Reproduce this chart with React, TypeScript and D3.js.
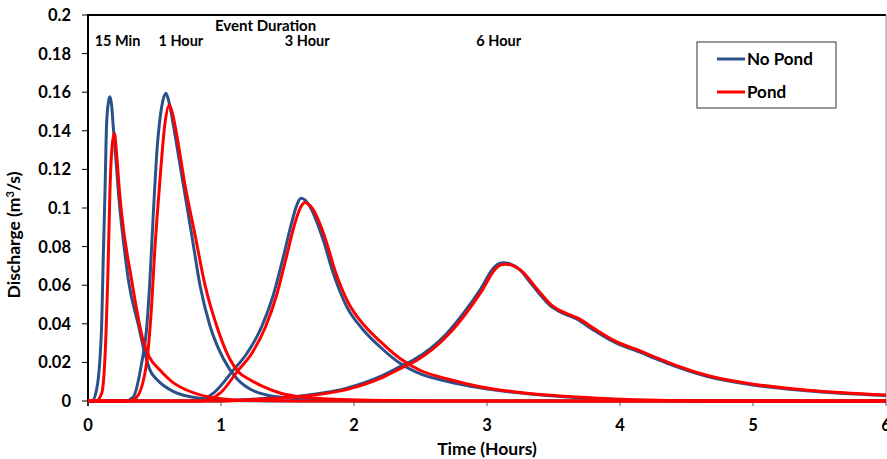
import React from "react";
import * as d3 from "d3";

type Pt = [number, number];

// Time (hours) / discharge (m3/s) pairs
const noPond15: Pt[] = [[0,0],[0.03,0],[0.065,0.006],[0.09,0.022],[0.103,0.04],[0.115,0.075],[0.128,0.109],[0.14,0.144],[0.155,0.1555],[0.165,0.1577],[0.178,0.153],[0.19,0.142],[0.21,0.125],[0.23,0.107],[0.28,0.075],[0.303,0.063],[0.38,0.039],[0.43,0.024],[0.466,0.016],[0.52,0.011],[0.64,0.005],[0.84,0.0014],[1.1,0.0003],[1.5,0],[6,0]];
const pond15: Pt[] = [[0,0],[0.06,0],[0.103,0.004],[0.128,0.023],[0.153,0.075],[0.165,0.109],[0.18,0.131],[0.198,0.1387],[0.215,0.128],[0.235,0.11],[0.253,0.097],[0.328,0.0627],[0.416,0.031],[0.46,0.023],[0.541,0.016],[0.64,0.0095],[0.742,0.0057],[0.967,0.0014],[1.2,0.0003],[1.6,0],[6,0]];
const noPond1h: Pt[] = [[0,0],[0.28,0],[0.34,0.002],[0.403,0.0195],[0.44,0.037],[0.466,0.063],[0.491,0.097],[0.521,0.132],[0.554,0.1525],[0.586,0.1594],[0.612,0.154],[0.654,0.138],[0.717,0.112],[0.78,0.086],[0.842,0.06],[0.917,0.039],[1.017,0.022],[1.118,0.0117],[1.218,0.0062],[1.35,0.003],[1.52,0.0015],[1.8,0.0004],[2.2,0],[6,0]];
const pond1h: Pt[] = [[0,0],[0.31,0],[0.366,0.002],[0.44,0.0195],[0.474,0.045],[0.504,0.08],[0.541,0.1145],[0.579,0.144],[0.611,0.1534],[0.635,0.149],[0.667,0.138],[0.729,0.112],[0.805,0.086],[0.88,0.06],[0.967,0.039],[1.068,0.0215],[1.13,0.0152],[1.218,0.011],[1.318,0.0074],[1.45,0.004],[1.59,0.0022],[1.9,0.0008],[2.3,0.0002],[2.6,0],[6,0]];
const noPond3h: Pt[] = [[0,0],[0.8,0],[0.95,0.0045],[1.093,0.016],[1.193,0.0245],[1.306,0.0385],[1.393,0.0548],[1.469,0.0748],[1.53,0.092],[1.57,0.1015],[1.6,0.105],[1.63,0.1042],[1.669,0.1007],[1.769,0.0834],[1.845,0.066],[1.945,0.0489],[2.07,0.0368],[2.195,0.0281],[2.346,0.0195],[2.5,0.014],[2.697,0.0102],[2.947,0.0068],[3.198,0.0045],[3.449,0.0028],[3.674,0.0018],[3.95,0.0008],[4.3,0.0002],[4.6,0],[6,0]];
const pond3h: Pt[] = [[0,0],[0.85,0],[1.0,0.0045],[1.13,0.016],[1.23,0.0245],[1.335,0.0385],[1.418,0.0548],[1.49,0.0742],[1.555,0.092],[1.6,0.1005],[1.632,0.1028],[1.66,0.1018],[1.69,0.0995],[1.785,0.084],[1.86,0.067],[1.96,0.0505],[2.08,0.039],[2.195,0.031],[2.346,0.022],[2.5,0.0158],[2.697,0.0115],[2.947,0.0074],[3.198,0.0048],[3.449,0.0031],[3.674,0.0021],[3.95,0.0011],[4.3,0.0004],[4.7,0],[6,0]];
const noPond6h: Pt[] = [[0,0],[1.0,0],[1.3,0.0012],[1.569,0.0024],[1.945,0.0066],[2.195,0.0126],[2.346,0.0178],[2.446,0.0212],[2.697,0.035],[2.822,0.0454],[2.947,0.0575],[3.048,0.0688],[3.09,0.0712],[3.123,0.0716],[3.17,0.0711],[3.248,0.0679],[3.33,0.061],[3.4,0.055],[3.47,0.0497],[3.55,0.0462],[3.674,0.0425],[3.8,0.0368],[3.95,0.0307],[4.15,0.0253],[4.3,0.021],[4.4,0.0183],[4.65,0.0128],[5.0,0.0083],[5.4,0.0053],[6.0,0.0028]];
const pond6h: Pt[] = [[0,0],[1.05,0],[1.35,0.0012],[1.6,0.0023],[1.97,0.0064],[2.22,0.0124],[2.37,0.0176],[2.47,0.021],[2.715,0.0348],[2.84,0.0452],[2.962,0.0572],[3.062,0.0683],[3.105,0.0705],[3.138,0.0709],[3.185,0.0704],[3.262,0.0673],[3.345,0.0607],[3.415,0.0549],[3.485,0.0497],[3.565,0.0463],[3.69,0.0427],[3.815,0.0371],[3.965,0.031],[4.165,0.0256],[4.315,0.0213],[4.415,0.0186],[4.665,0.0131],[5.015,0.0086],[5.415,0.0056],[6.0,0.0031]];

const noPondSeries: Pt[][] = [noPond15, noPond1h, noPond3h, noPond6h];
const pondSeries: Pt[][] = [pond15, pond1h, pond3h, pond6h];

const xTicks = [0, 1, 2, 3, 4, 5, 6];
const yTicks = [0, 0.02, 0.04, 0.06, 0.08, 0.1, 0.12, 0.14, 0.16, 0.18, 0.2];
const legendLabels = ["No Pond", "Pond"];
const durationLabels: [string, number][] = [["15 Min", 0.05], ["1 Hour", 0.53], ["3 Hour", 1.48], ["6 Hour", 2.92]];

const BLUE = "#2B5189";
const RED = "#FF0000";
const FONT = "Lato, 'Liberation Sans', sans-serif";

export default function App() {
  const W = 887, H = 459;
  const L = 88, R = 886, T = 15, B = 401;
  const x = d3.scaleLinear().domain([0, 6]).range([L, R]);
  const y = d3.scaleLinear().domain([0, 0.2]).range([B, T]);
  const line = d3.line<Pt>().x(d => x(d[0])).y(d => y(d[1])).curve(d3.curveMonotoneX);
  const fmtY = (v: number) => (v === 0 ? "0" : String(+v.toFixed(2)));

  return (
    <svg width={W} height={H} style={{ position: "absolute", left: 0, top: 0, background: "#fff" }} fontFamily={FONT}>
      {/* plot frame */}
      <line x1={L} x2={R} y1={T} y2={T} stroke="#000" strokeWidth={2} />
      <line x1={R} x2={R} y1={T} y2={B} stroke="#888" strokeWidth={1} />
      <line x1={L} x2={R} y1={B} y2={B} stroke="#888" strokeWidth={1} />
      <line x1={L} x2={L} y1={T - 1} y2={B + 5} stroke="#000" strokeWidth={2} />
      {yTicks.map(v => (
        <g key={"y" + v}>
          <line x1={L - 6} x2={L} y1={y(v)} y2={y(v)} stroke="#000" strokeWidth={1} />
          <text x={71} y={y(v)} dy="0.36em" textAnchor="end" fontSize={16.5} fontWeight="bold">{fmtY(v)}</text>
        </g>
      ))}
      {xTicks.map(v => (
        <g key={"x" + v}>
          <line x1={x(v)} x2={x(v)} y1={B} y2={B + 5} stroke="#555" strokeWidth={1} />
          <text x={x(v)} y={431} textAnchor="middle" fontSize={16.5} fontWeight="bold">{v}</text>
        </g>
      ))}
      {/* series */}
      {noPondSeries.map((s, i) => (
        <path key={"b" + i} d={line(s) || ""} fill="none" stroke={BLUE} strokeWidth={3} strokeLinejoin="round" />
      ))}
      {pondSeries.map((s, i) => (
        <path key={"r" + i} d={line(s) || ""} fill="none" stroke={RED} strokeWidth={3} strokeLinejoin="round" />
      ))}
      {/* annotations */}
      <text x={215} y={31} fontSize={15} fontWeight="bold">Event Duration</text>
      {durationLabels.map(([t, v]) => (
        <text key={t} x={x(v)} y={46} fontSize={14.5} fontWeight="bold">{t}</text>
      ))}
      {/* legend */}
      <rect x={697} y={42} width={139} height={66} fill="#fff" stroke="#333" strokeWidth={1} />
      {legendLabels.map((lab, i) => (
        <g key={lab}>
          <line x1={717} x2={745} y1={59 + i * 33} y2={59 + i * 33} stroke={i === 0 ? BLUE : RED} strokeWidth={3} />
          <text x={747} y={59 + i * 33} dy="0.36em" fontSize={17} fontWeight="bold">{lab}</text>
        </g>
      ))}
      {/* axis titles */}
      <text x={487} y={455} textAnchor="middle" fontSize={17.5} fontWeight="bold">Time (Hours)</text>
      <text transform={`translate(20,${(T + B) / 2 + 27}) rotate(-90)`} textAnchor="middle" fontSize={17.5} fontWeight="bold">
        Discharge (m<tspan fontSize={11} dy={-6}>3</tspan><tspan dy={6}>/s)</tspan>
      </text>
    </svg>
  );
}
